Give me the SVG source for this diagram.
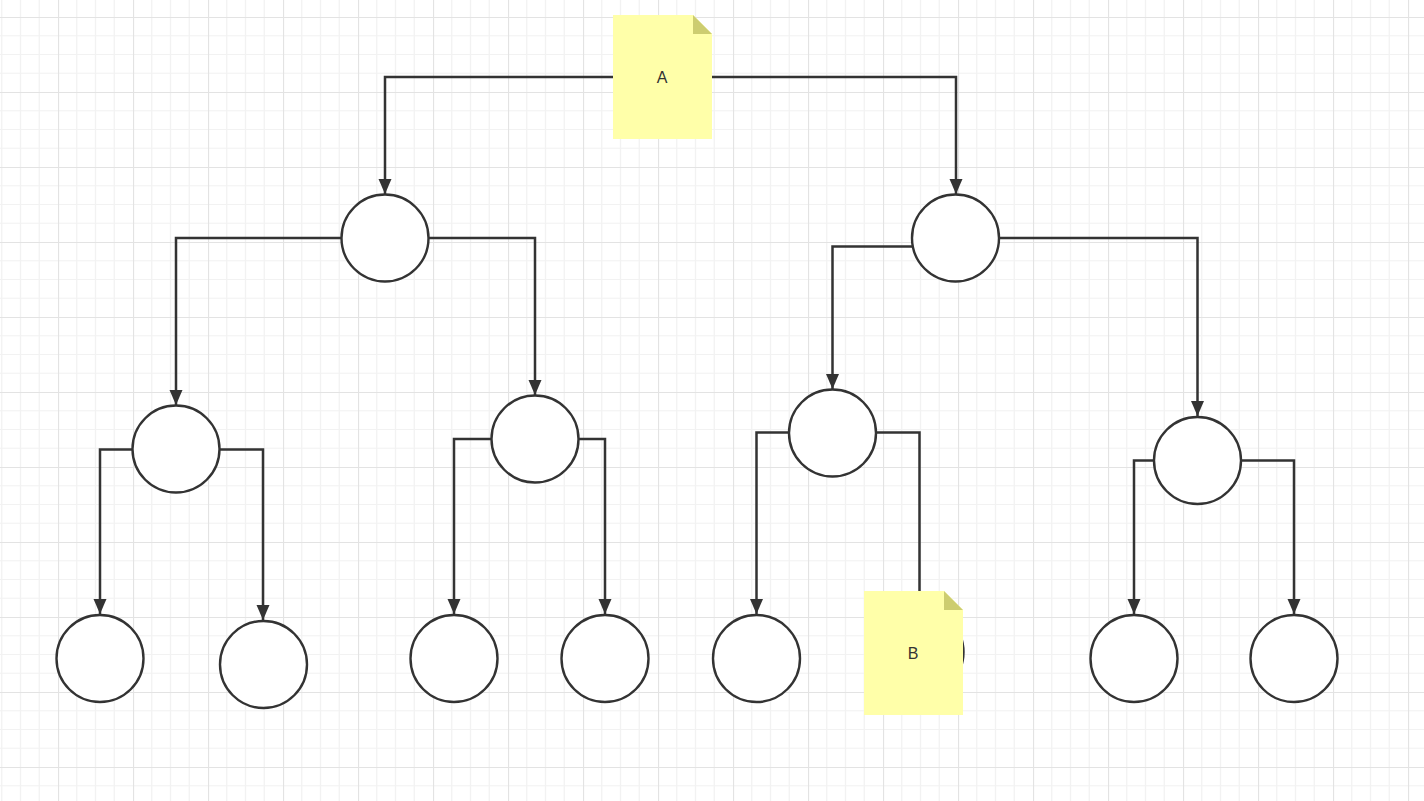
<svg xmlns="http://www.w3.org/2000/svg" width="1424" height="801" viewBox="0 0 1424 801">
<defs>
<pattern id="grid" patternUnits="userSpaceOnUse" x="-17" y="17" width="75" height="75">
<rect width="75" height="75" fill="#ffffff"/>
<path d="M18.75 0V75M37.5 0V75M56.25 0V75M0 18.75H75M0 37.5H75M0 56.25H75" stroke="#f2f2f2" stroke-width="1.2" fill="none"/>
<path d="M0.5 0V75M0 0.5H75" stroke="#e3e3e3" stroke-width="1.2" fill="none"/>
</pattern>
<marker id="arr" markerUnits="userSpaceOnUse" markerWidth="16" markerHeight="14" refX="15" refY="6.5" orient="auto">
<path d="M0 0L15 6.5L0 13Z" fill="#333333"/>
</marker>
</defs>
<style>
.c{fill:#ffffff;stroke:#333333;stroke-width:2.4}
.e{fill:none;stroke:#333333;stroke-width:2.5;marker-end:url(#arr)}
.n{fill:#ffffa9}
.f{fill:#cdcd70}
.t{font-family:"Liberation Sans",Arial,sans-serif;font-size:16px;fill:#333333;text-anchor:middle;dominant-baseline:central}
</style>
<rect width="1424" height="801" fill="url(#grid)"/>
<g id="connectors">
<path class="e" d="M613 77H385V194"/>
<path class="e" d="M712 77H956V194"/>
<path class="e" d="M342 238H176V405"/>
<path class="e" d="M428 238H535V395"/>
<path class="e" d="M912 246.5H832.5V389"/>
<path class="e" d="M999 238H1197.5V416"/>
<path class="e" d="M133 449.5H100V614"/>
<path class="e" d="M219 449.5H263V620"/>
<path class="e" d="M492 439H454V614"/>
<path class="e" d="M578 439H605V614"/>
<path class="e" d="M789 432.5H756.5V614"/>
<path class="e" d="M876 432.5H919.5V608"/>
<path class="e" d="M1154 460.5H1134V614"/>
<path class="e" d="M1241 460.5H1294V614"/>
</g>
<g id="n1"><ellipse class="c" cx="385" cy="238" rx="43.5" ry="43.5"/></g>
<g id="n2"><ellipse class="c" cx="955.5" cy="238" rx="43.5" ry="43.5"/></g>
<g id="n3"><ellipse class="c" cx="176" cy="449" rx="43.5" ry="43.5"/></g>
<g id="n4"><ellipse class="c" cx="535" cy="439" rx="43.5" ry="43.5"/></g>
<g id="n5"><ellipse class="c" cx="832.5" cy="433" rx="43.5" ry="43.5"/></g>
<g id="n6"><ellipse class="c" cx="1197.5" cy="460.5" rx="43.5" ry="43.5"/></g>
<g id="n7"><ellipse class="c" cx="100" cy="658.5" rx="43.5" ry="43.5"/></g>
<g id="n8"><ellipse class="c" cx="263.5" cy="664.5" rx="43.5" ry="43.5"/></g>
<g id="n9"><ellipse class="c" cx="454" cy="658.5" rx="43.5" ry="43.5"/></g>
<g id="n10"><ellipse class="c" cx="605" cy="658.5" rx="43.5" ry="43.5"/></g>
<g id="n11"><ellipse class="c" cx="756.5" cy="658.5" rx="43.5" ry="43.5"/></g>
<g id="n12"><ellipse class="c" cx="920" cy="652" rx="43.5" ry="43.5"/></g>
<g id="n13"><ellipse class="c" cx="1134" cy="658.5" rx="43.5" ry="43.5"/></g>
<g id="n14"><ellipse class="c" cx="1294" cy="658.5" rx="43.5" ry="43.5"/></g>
<g id="noteA">
<path class="n" d="M613 15H693L712 34V139H613Z"/>
<path class="f" d="M693 15L712 34H693Z"/>
<text class="t" x="662" y="77">A</text>
</g>
<g id="noteB">
<path class="n" d="M864 591H944L963 610V715H864Z"/>
<path class="f" d="M944 591L963 610H944Z"/>
<text class="t" x="913" y="653">B</text>
</g>
</svg>
